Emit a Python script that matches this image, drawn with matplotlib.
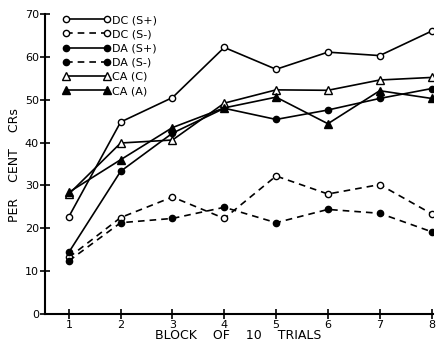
import matplotlib.pyplot as plt

plt.rcParams['font.family'] = 'DejaVu Sans'

blocks = [1, 2, 3, 4, 5, 6, 7, 8]

dc_s_plus = [22.7, 44.8, 50.5, 62.2, 57.1, 61.1, 60.3, 66.0]
dc_s_minus = [13.2, 22.5, 27.3, 22.3, 32.2, 28.0, 30.2, 23.4]
da_s_plus = [14.4, 33.3, 42.2, 48.0, 45.4, 47.6, 50.3, 52.6]
da_s_minus = [12.4, 21.3, 22.3, 24.9, 21.3, 24.4, 23.5, 19.2]
ca_c = [28.0, 39.9, 40.6, 49.2, 52.3, 52.2, 54.6, 55.2]
ca_a = [28.4, 36.0, 43.5, 48.1, 50.6, 44.4, 52.1, 50.3]

fig = plt.figure(figsize=(4.37, 3.46), dpi=100)
ax = fig.add_axes([0.103, 0.0925, 0.888, 0.867])

ax.plot(blocks, dc_s_plus, 'k-', marker='o', mfc='white', ms=4.5, lw=1.2, label='DC (S+)')
ax.plot(blocks, dc_s_minus, 'k--', marker='o', mfc='white', ms=4.5, lw=1.2, dashes=(4, 3), label='DC (S-)')
ax.plot(blocks, da_s_plus, 'k-', marker='o', mfc='black', ms=4.5, lw=1.2, label='DA (S+)')
ax.plot(blocks, da_s_minus, 'k--', marker='o', mfc='black', ms=4.5, lw=1.2, dashes=(4, 3), label='DA (S-)')
ax.plot(blocks, ca_c, 'k-', marker='^', mfc='white', ms=5.5, lw=1.2, label='CA (C)')
ax.plot(blocks, ca_a, 'k-', marker='^', mfc='black', ms=5.5, lw=1.2, label='CA (A)')

ax.set_xlim(0.54, 8.03)
ax.set_ylim(0, 70)
ax.set_xticks(blocks)
ax.set_yticks(range(0, 71, 10))
ax.tick_params(direction='inout', length=7, width=1.2, labelsize=8, pad=1)
ax.spines['top'].set_visible(False)
ax.spines['right'].set_visible(False)
ax.spines['left'].set_linewidth(1.5)
ax.spines['bottom'].set_linewidth(1.5)

# axis titles placed by hand so they stay inside the small canvas
fig.text(0.545, 0.029, 'BLOCK    OF    10    TRIALS', fontsize=9, ha='center', va='center')
fig.text(0.034, 0.523, 'PER    CENT    CRs', fontsize=9, rotation=90, ha='center', va='center')

ax.legend(loc='upper left', bbox_to_anchor=(0.02, 1.03), frameon=False, numpoints=2,
          handlelength=4.3, handletextpad=0.1, labelspacing=0.38, fontsize=8)

plt.savefig('out.png', dpi=100)
